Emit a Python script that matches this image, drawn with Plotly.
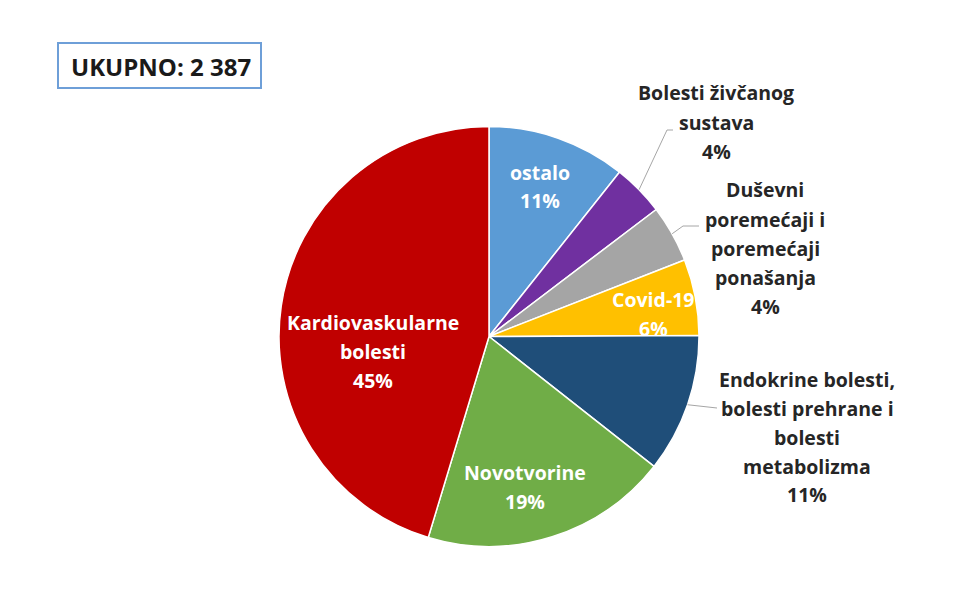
import math
import plotly.graph_objects as go

# ---- data ----
categories = ["ostalo", "Bolesti živčanog sustava", "Duševni poremećaji i poremećaji ponašanja",
              "Covid-19", "Endokrine bolesti, bolesti prehrane i bolesti metabolizma",
              "Novotvorine", "Kardiovaskularne bolesti"]
label_lines = [["ostalo"], ["Bolesti živčanog", "sustava"],
               ["Duševni", "poremećaji i", "poremećaji", "ponašanja"],
               ["Covid-19"], ["Endokrine bolesti,", "bolesti prehrane i", "bolesti", "metabolizma"],
               ["Novotvorine"], ["Kardiovaskularne", "bolesti"]]
values = [255, 95, 105, 140, 255, 455, 1082]
colors = ["#5B9BD5", "#7030A0", "#A5A5A5", "#FFC000", "#1F4E79", "#70AD47", "#C00000"]
total_label = "UKUPNO: 2 387"

W, H = 960, 601
OFF = 8  # page body margin
CX, CY, R = 489, 336.5, 210
FONT = "Open Sans"

def px(x):
    return (x - OFF) / W

def py(y):
    return 1 - (y - OFF) / H

total = sum(values)
pcts = [f"{round(v / total * 100)}%" for v in values]

fig = go.Figure(go.Pie(
    labels=categories, values=values, sort=False, direction="clockwise", rotation=0,
    marker=dict(colors=colors, line=dict(color="white", width=1.5)),
    textinfo="none", hoverinfo="label+percent", showlegend=False,
    domain=dict(x=[px(CX - R), px(CX + R)], y=[py(CY + R), py(CY - R)]),
))

# label placement (pixel centers of first line), inside flag
label_pos = [(540, 172, True), (716, 93, False), (765, 190, False), (653, 299, True),
             (807, 379, False), (525, 472, True), (373, 322, True)]
LS = 29
annotations = []
for lines, pct, (x, y, inside) in zip(label_lines, pcts, label_pos):
    col = "white" if inside else "#262626"
    for i, t in enumerate(lines + [pct]):
        annotations.append(dict(
            x=px(x), y=py(y + i * LS), xref="paper", yref="paper", showarrow=False,
            text=f"<b>{t}</b>", font=dict(family=FONT, size=19.5, color=col),
            xanchor="center", yanchor="middle"))

annotations.append(dict(x=px(161), y=py(66), xref="paper", yref="paper", showarrow=False,
                        text=f"<b>{total_label}</b>", font=dict(family=FONT, size=24, color="#1a1a1a"),
                        xanchor="center", yanchor="middle"))

# leader lines from slice mid-angles
cum = 0
mids = []
for v in values:
    mids.append((cum + v / 2) / total * 2 * math.pi)
    cum += v

def edge(i, rr=R):
    a = mids[i]
    return CX + rr * math.sin(a), CY - rr * math.cos(a)

shapes = [dict(type="rect", xref="paper", yref="paper", x0=px(58), x1=px(261), y0=py(88), y1=py(43),
               line=dict(color="#6E9FD8", width=2), fillcolor="white", layer="below")]
leaders = {1: [(667, 130), (673, 130)], 2: [(683, 226), (699, 226)], 4: [(717, 408)]}
for i, pts in leaders.items():
    ex, ey = edge(i)
    path = f"M {px(ex)},{py(ey)} " + " ".join(f"L {px(a)},{py(b)}" for a, b in pts)
    shapes.append(dict(type="path", xref="paper", yref="paper", path=path,
                       line=dict(color="#A6A6A6", width=1)))

fig.update_layout(width=W, height=H, margin=dict(l=0, r=0, t=0, b=0),
                  paper_bgcolor="white", plot_bgcolor="white",
                  annotations=annotations, shapes=shapes)
fig.write_html("out.html")
